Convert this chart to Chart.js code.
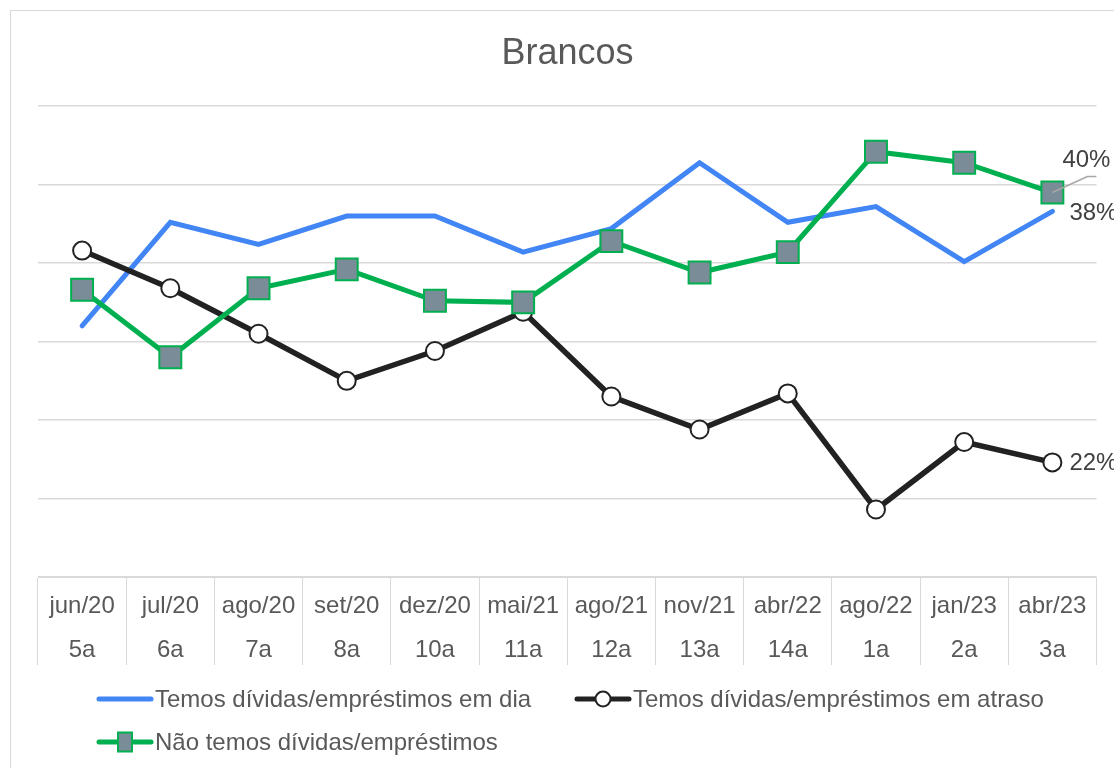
<!DOCTYPE html>
<html>
<head>
<meta charset="utf-8">
<script src="https://cdn.jsdelivr.net/npm/chart.js@4"></script>
<style>
  html, body { margin: 0; padding: 0; background: #fff; overflow: hidden; }
  #wrap { position: absolute; left: 0; top: 0; width: 1114px; height: 768px; }
</style>
</head>
<body>
<div id="wrap"><canvas id="brancosChart" width="1114" height="768"></canvas></div>
<script>
const months = ['jun/20', 'jul/20', 'ago/20', 'set/20', 'dez/20', 'mai/21', 'ago/21', 'nov/21', 'abr/22', 'ago/22', 'jan/23', 'abr/23'];
const waves = ['5a', '6a', '7a', '8a', '10a', '11a', '12a', '13a', '14a', '1a', '2a', '3a'];

const emDia = [31.0, 37.6, 36.2, 38.0, 38.0, 35.7, 37.2, 41.4, 37.6, 38.6, 35.1, 38.3];
const emAtraso = [35.8, 33.4, 30.5, 27.5, 29.4, 31.9, 26.5, 24.4, 26.7, 19.3, 23.6, 22.3];
const naoTemos = [33.3, 29.0, 33.4, 34.6, 32.6, 32.5, 36.4, 34.4, 35.7, 42.1, 41.4, 39.5];

const FONT = '"Liberation Sans", Arial, sans-serif';
const GRID = '#d9d9d9';
const TEXT = '#595959';
const BLUE = '#4285f4';
const BLACK = '#222222';
const GREEN = '#00b050';
const SQUARE = '#7a8c97';

// outer frame of the chart object
const framePlugin = {
  id: 'frame',
  beforeDraw(chart) {
    const ctx = chart.ctx;
    ctx.save();
    ctx.fillStyle = '#fff';
    ctx.fillRect(0, 0, chart.width, chart.height);
    ctx.strokeStyle = GRID;
    ctx.lineWidth = 1;
    ctx.strokeRect(10.5, 10.5, 1200, 1000);
    ctx.restore();
  }
};

// percentage labels on the last point of each series
const lastLabels = {
  id: 'lastLabels',
  afterDatasetsDraw(chart) {
    const ctx = chart.ctx;
    ctx.save();
    ctx.font = '24px ' + FONT;
    ctx.fillStyle = '#404040';
    ctx.textBaseline = 'middle';
    ctx.textAlign = 'left';
    chart.data.datasets.forEach((ds, i) => {
      const meta = chart.getDatasetMeta(i);
      const pt = meta.data[meta.data.length - 1];
      const txt = Math.round(ds.data[ds.data.length - 1]) + '%';
      if (i === 2) {
        ctx.strokeStyle = '#a6a6a6';
        ctx.lineWidth = 1.5;
        ctx.beginPath();
        ctx.moveTo(pt.x, pt.y);
        ctx.lineTo(pt.x + 35, pt.y - 16);
        ctx.lineTo(pt.x + 44, pt.y - 16);
        ctx.stroke();
        ctx.fillText(txt, pt.x + 10, pt.y - 32);
      } else if (i === 0) {
        ctx.fillText(txt, pt.x + 17, pt.y + 2);
      } else {
        ctx.fillText(txt, pt.x + 17, pt.y + 1);
      }
    });
    ctx.restore();
  }
};

// legend drawn like the spreadsheet one
const sheetLegend = {
  id: 'sheetLegend',
  afterDraw(chart) {
    const ctx = chart.ctx;
    const ds = chart.data.datasets;
    const items = [
      { i: 0, x: 97, y: 699 },
      { i: 1, x: 575, y: 699 },
      { i: 2, x: 97, y: 742 }
    ];
    ctx.save();
    items.forEach(it => {
      const d = ds[it.i];
      const x0 = it.x, x1 = it.x + 56, y = it.y;
      ctx.strokeStyle = d.borderColor;
      ctx.lineWidth = 5;
      ctx.lineCap = 'round';
      ctx.beginPath();
      ctx.moveTo(x0 + 2, y);
      ctx.lineTo(x1 - 2, y);
      ctx.stroke();
      const cx = (x0 + x1) / 2;
      if (d.pointStyle === 'circle') {
        ctx.fillStyle = d.pointBackgroundColor;
        ctx.strokeStyle = d.pointBorderColor;
        ctx.lineWidth = 2;
        ctx.beginPath();
        ctx.arc(cx, y, 7.5, 0, Math.PI * 2);
        ctx.fill();
        ctx.stroke();
      } else if (d.pointStyle === 'rect') {
        ctx.fillStyle = d.pointBackgroundColor;
        ctx.strokeStyle = d.pointBorderColor;
        ctx.lineWidth = 2;
        ctx.fillRect(cx - 7, y - 9.5, 14, 19);
        ctx.strokeRect(cx - 7, y - 9.5, 14, 19);
      }
      ctx.font = '24px ' + FONT;
      ctx.fillStyle = TEXT;
      ctx.textBaseline = 'middle';
      ctx.textAlign = 'left';
      ctx.fillText(d.label, x1 + 2, y + 1);
    });
    ctx.restore();
  }
};

const data = {
  labels: months.map((m, i) => [m, waves[i]]),
  datasets: [
    {
      label: 'Temos dívidas/empréstimos em dia',
      data: emDia,
      borderColor: BLUE,
      backgroundColor: BLUE,
      borderWidth: 5,
      borderCapStyle: 'round',
      pointRadius: 0,
      pointHoverRadius: 0,
      order: 3
    },
    {
      label: 'Temos dívidas/empréstimos em atraso',
      data: emAtraso,
      borderColor: BLACK,
      backgroundColor: BLACK,
      borderWidth: 5.5,
      pointStyle: 'circle',
      pointRadius: 9,
      pointBorderWidth: 2,
      pointBackgroundColor: '#ffffff',
      pointBorderColor: BLACK,
      order: 2
    },
    {
      label: 'Não temos dívidas/empréstimos',
      data: naoTemos,
      borderColor: GREEN,
      backgroundColor: GREEN,
      borderWidth: 5,
      pointStyle: 'rect',
      pointRadius: 15.5,
      pointBorderWidth: 2,
      pointBackgroundColor: SQUARE,
      pointBorderColor: GREEN,
      order: 1
    }
  ]
};

const config = {
  type: 'line',
  data: data,
  options: {
    responsive: false,
    animation: false,
    events: [],
    layout: {
      padding: { left: 38, right: 17, top: 0, bottom: 101 }
    },
    plugins: {
      legend: { display: false },
      tooltip: { enabled: false },
      title: {
        display: true,
        text: 'Brancos',
        color: TEXT,
        font: { family: FONT, size: 36, weight: 'normal', lineHeight: 1.2 },
        padding: { top: 32, bottom: 31 }
      }
    },
    scales: {
      x: {
        offset: true,
        border: { display: true, color: GRID, width: 1 },
        grid: {
          offset: true,
          drawOnChartArea: false,
          drawTicks: true,
          tickLength: 88,
          color: GRID,
          lineWidth: 1
        },
        ticks: {
          color: TEXT,
          font: { family: FONT, size: 24, lineHeight: 44 / 24 },
          padding: -81,
          maxRotation: 0,
          autoSkip: false
        },
        afterFit(scale) { scale.height = 90; }
      },
      y: {
        min: 15,
        max: 45,
        border: { display: false },
        grid: { color: GRID, lineWidth: 1.5, drawTicks: false },
        ticks: { display: false, stepSize: 5 },
        afterFit(scale) { scale.width = 0; }
      }
    }
  },
  plugins: [framePlugin, lastLabels, sheetLegend]
};

const ctx = document.getElementById('brancosChart').getContext('2d');
new Chart(ctx, config);
</script>
</body>
</html>
